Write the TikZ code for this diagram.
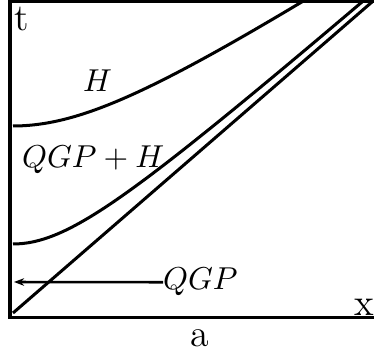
\documentclass[tikz,border=0pt]{standalone}
\usetikzlibrary{arrows.meta}
\begin{document}
\begin{tikzpicture}[x=0.316pt,y=-0.316pt,
  frameline/.style={line width=0.95pt},
  curveline/.style={line width=0.95pt},
  lbl/.style={inner sep=0pt,outer sep=0pt},
  romanlbl/.style={lbl,font=\fontsize{12}{14}\selectfont}]
\useasboundingbox (0,0) rectangle (374,358);
% frame (top, left, bottom)
\draw[frameline] (374,2) -- (10,2) -- (10,318) -- (374,318);
% H curve
\draw[curveline] plot[domain=0:289,samples=80,smooth] ({13+\x},{126-10*(sqrt(64+(0.065*\x)^2)-8)});
% QGP+H curve
\draw[curveline] plot[domain=0:349,samples=80,smooth] ({13+\x},{244-10*(sqrt(48.3+(0.087*\x)^2)-6.95)});
% straight line
\coordinate (lstart) at (13,313);
\coordinate (lend) at (372,2);
\draw[curveline] (lstart) -- (lend);
% labels
\node[romanlbl,anchor=base west] (tlab) at (15,31) {t};
\node[lbl,anchor=base west] (hlab) at (83,92) {$H$};
\node[lbl,anchor=base west] (mixlab) at (22,168) {$QGP+H$};
\node[lbl,anchor=base west] (qgp) at (163,290) {$QGP$};
\node[romanlbl,anchor=base east] (xlab) at (374,316) {x};
\node[romanlbl,anchor=base] (alab) at (200,347) {a};
% arrow
\coordinate (arrowend) at (14,282);
\draw[line width=0.8pt,-{Stealth[length=3.2pt,width=2.4pt]}] (qgp.west) -- (arrowend);
\end{tikzpicture}
\end{document}
